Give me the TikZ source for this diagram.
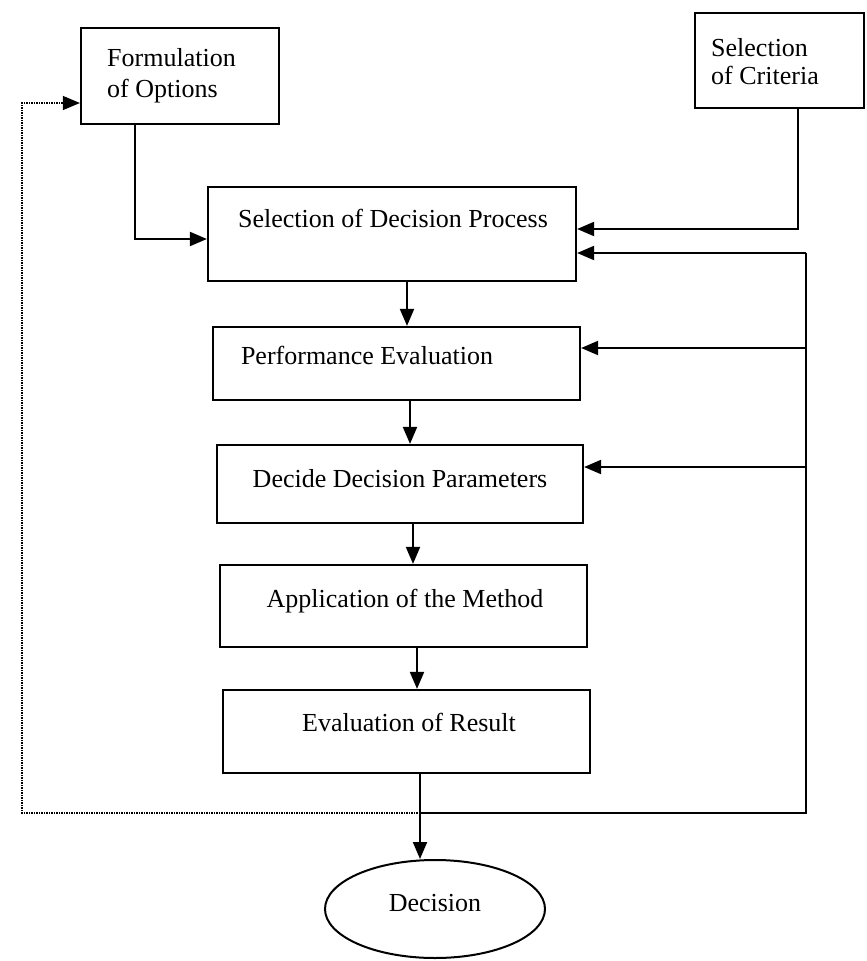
\documentclass[tikz,border=0pt]{standalone}
\usepackage{fontspec}
\setmainfont{Liberation Serif}
\usetikzlibrary{arrows.meta,shapes.geometric}
\begin{document}
\begin{tikzpicture}[x=1pt,y=-1pt,
  box/.style={draw,line width=2.2pt,rectangle,inner sep=0pt},
  oval/.style={draw,line width=2pt,ellipse,inner sep=0pt},
  lbl/.style={font=\fontsize{26}{30}\selectfont,inner sep=0pt,anchor=base},
  lbll/.style={font=\fontsize{26}{30}\selectfont,inner sep=0pt,anchor=base west},
  conn/.style={line width=2pt,-{Triangle[length=17pt,width=14pt]}},
  plain/.style={line width=2pt},
  fb/.style={line width=1.3pt,dash pattern=on 1.2pt off 1.3pt},
  fbarrow/.style={fb,-{Triangle[length=17pt,width=14pt]}}]
\useasboundingbox (0,0) rectangle (867,961);
% boxes
\node[box,minimum width=198pt,minimum height=96pt] (form) at (180,76) {};
\node[box,minimum width=169pt,minimum height=95pt] (crit) at (779.5,60.5) {};
\node[box,minimum width=368pt,minimum height=94pt] (sel) at (392,234) {};
\node[box,minimum width=367pt,minimum height=73pt] (perf) at (396.5,363.5) {};
\node[box,minimum width=366pt,minimum height=78pt] (dec) at (400,484) {};
\node[box,minimum width=367pt,minimum height=82pt] (appl) at (403.5,606) {};
\node[box,minimum width=367pt,minimum height=83pt] (eval) at (406.5,731.5) {};
\node[oval,minimum width=220pt,minimum height=98pt] (deci) at (435,909) {};
% texts
\node[lbll] (tform1) at (107,66) {Formulation};
\node[lbll] (tform2) at (107,97) {of Options};
\node[lbll] (tcrit1) at (711,56) {Selection};
\node[lbll] (tcrit2) at (711,84) {of Criteria};
\node[lbl] (tsel) at (393,227) {Selection of Decision Process};
\node[lbl] (tperf) at (367,364) {Performance Evaluation};
\node[lbl] (tdec) at (400,487) {Decide Decision Parameters};
\node[lbl] (tappl) at (405,607) {Application of the Method};
\node[lbl] (teval) at (409,731) {Evaluation of Result};
\node[lbl] (tdeci) at (435,911) {Decision};
% helper coordinates
\coordinate (c1) at (407,0);
\coordinate (c2) at (410,0);
\coordinate (c3) at (413,0);
\coordinate (c4) at (417,0);
\coordinate (c5) at (420,0);
\coordinate (f) at (135,239);
\coordinate (k) at (798,229);
\coordinate (j) at (420,813);
\coordinate (rb) at (806,813);
\coordinate (r1) at (806,253);
\coordinate (r2) at (806,348);
\coordinate (r3) at (806,467);
\coordinate (d1) at (22,813);
\coordinate (d2) at (22,103);
% main chain
\draw[conn] (sel.south -| c1) -- (perf.north -| c1);
\draw[conn] (perf.south -| c2) -- (dec.north -| c2);
\draw[conn] (dec.south -| c3) -- (appl.north -| c3);
\draw[conn] (appl.south -| c4) -- (eval.north -| c4);
\draw[conn] (eval.south -| c5) -- (deci.north -| c5);
% inputs
\draw[conn] (form.south -| f) -- (f) -- (f -| sel.west);
\draw[conn] (crit.south -| k) -- (k) -- (k -| sel.east);
% feedback (solid)
\draw[plain] (j) -- (rb) -- (r1);
\draw[conn] (r1) -- (r1 -| sel.east);
\draw[conn] (r2) -- (r2 -| perf.east);
\draw[conn] (r3) -- (r3 -| dec.east);
% feedback (dotted)
\draw[fbarrow] (j) -- (d1) -- (d2) -- (d2 -| form.west);
\end{tikzpicture}
\end{document}
